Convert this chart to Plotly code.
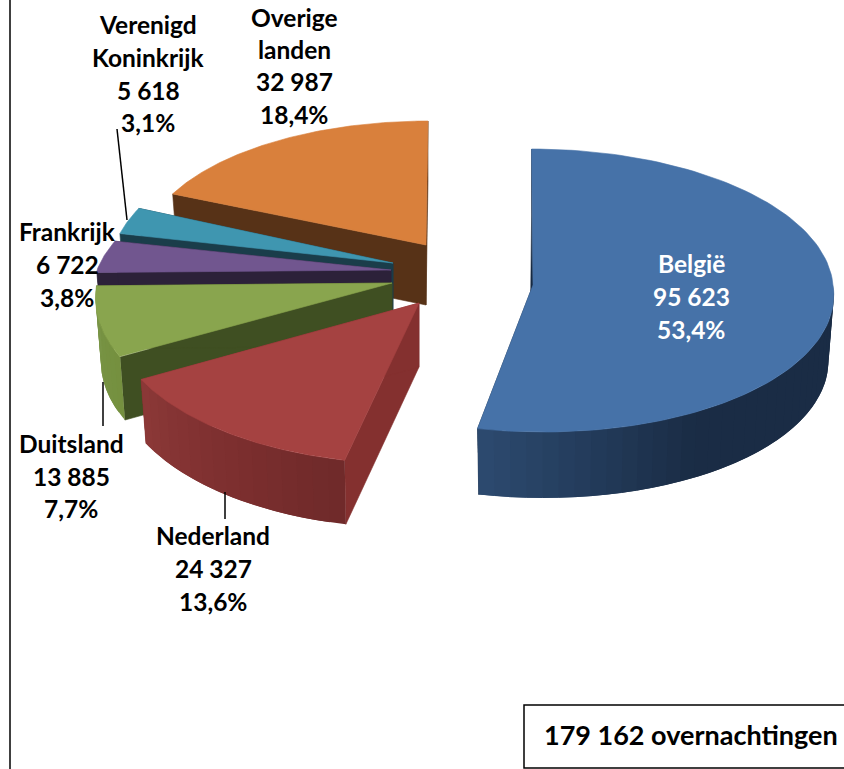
import numpy as np
import plotly.graph_objects as go

# ---------- data ----------
names = ["België", "Nederland", "Duitsland", "Frankrijk", "Verenigd Koninkrijk", "Overige landen"]
values = [95623, 24327, 13885, 6722, 5618, 32987]
value_labels = ["95 623", "24 327", "13 885", "6 722", "5 618", "32 987"]
pct_labels = ["53,4%", "13,6%", "7,7%", "3,8%", "3,1%", "18,4%"]
total_label = "179 162 overnachtingen"

# ---------- style / projection of each exploded slice ----------
apex_x = [533, 419, 392, 391, 393, 426]
apex_y = [285, 303, 283, 270, 263, 245]
radius_x = [300, 308, 295, 294, 282, 282]
radius_y = [141.5, 155, 150, 135, 138, 129]
shear_front = [0.07, -0.045, -0.12, 0.0, 0.0, 0.0]
shear_back = [0.01, 0.0, 0.0, -0.3, 0.0, -0.016]
depth = [66, 64, 63, 60, 60, 60]
top_colors = ["#4672a8", "#a54241", "#89a54e", "#71568f", "#3f96b0", "#d9803c"]
face_colors = ["#172a42", "#84302f", "#3f4f22", "#2c2139", "#1a3d4a", "#573217"]
wall_stops = [
    [(90, "#1a2c45"), (150, "#1a2c45"), (192, "#2d4b70")],
    [(192, "#6f2a2a"), (215, "#7d2f2f"), (241, "#8c3938")],
    [(241, "#75903f"), (269, "#7a9648")],
    [(269, "#2c2139"), (283, "#2c2139")],
    [(283, "#1a3d4a"), (294, "#1a3d4a")],
    [(294, "#573217"), (360, "#573217")],
]
PERSP = 0.039

shares = np.array(values, dtype=float) / sum(values)
edges = np.concatenate([[0], np.cumsum(shares) * 360])


def rim(i, theta, bottom=False):
    t = np.radians(theta)
    s = 1 - PERSP * np.cos(t)
    shrink = 0.982 if bottom else 1.0
    dy = -radius_y[i] * np.cos(t) * s
    sh = np.where(dy > 0, shear_front[i], shear_back[i]) * dy
    x = apex_x[i] + radius_x[i] * np.sin(t) * s * shrink + sh
    y = apex_y[i] + dy + (depth[i] if bottom else 0)
    return x, y


def hex2rgb(c):
    return np.array([int(c[k:k + 2], 16) for k in (1, 3, 5)], dtype=float)


def wall_color(i, theta):
    th = [p[0] for p in wall_stops[i]]
    cols = np.array([hex2rgb(p[1]) for p in wall_stops[i]])
    rgb = [np.interp(theta, th, cols[:, k]) for k in range(3)]
    return "rgb(%d,%d,%d)" % tuple(rgb)


fig = go.Figure()


def poly(xs, ys, color, name, width=0.6):
    fig.add_trace(go.Scatter(
        x=list(xs), y=list(ys), mode="lines", fill="toself", fillcolor=color,
        line=dict(color=color, width=width), hoverinfo="skip", showlegend=False, name=name))


for i in [5, 4, 3, 2, 1, 0]:
    a0, a1 = edges[i], edges[i + 1]
    ax, ay = apex_x[i], apex_y[i]
    # shift of the hidden apex on the lower face (gives the thin dark sliver on the first slice)
    bx = ax - (3 if i == 0 else 0)
    by = ay + depth[i]
    # cut faces
    for a in (a0, a1):
        tx, ty = rim(i, a)
        dx, dy = rim(i, a, True)
        poly([ax, tx, dx, bx, ax], [ay, ty, dy, by, ay], face_colors[i], names[i])
    # outer wall, as shaded strips that overlap so no seams appear
    lo, hi = max(a0, 90), min(a1, 270)
    if hi > lo:
        n = max(2, int((hi - lo) / 3))
        th = np.linspace(lo, hi, n + 1)
        for j in range(n):
            seg = np.linspace(th[j], th[min(j + 2, n)], 6)
            tx, ty = rim(i, seg)
            dx, dy = rim(i, seg, True)
            poly(np.r_[tx, dx[::-1], tx[0]], np.r_[ty, dy[::-1], ty[0]],
                 wall_color(i, (th[j] + th[j + 1]) / 2), names[i], 0)
    # top surface
    arc = np.linspace(a0, a1, 120)
    rx, ry = rim(i, arc)
    poly(np.r_[ax, rx, ax], np.r_[ay, ry, ay], top_colors[i], names[i])

# ---------- labels ----------
FONT = "Lato, Carlito, Calibri, sans-serif"
SIZE = 24.5
TOTAL_SIZE = 27


def label(lines, x, ys, color="#000000", size=SIZE):
    for txt, y in zip(lines, ys):
        fig.add_annotation(x=x, y=y, text="<b>%s</b>" % txt, showarrow=False, xanchor="center",
                           yanchor="middle", font=dict(family=FONT, size=size, color=color))


label([names[0], value_labels[0], pct_labels[0]], 691, [263, 296, 329], "#ffffff")
label([names[1], value_labels[1], pct_labels[1]], 213, [535, 568, 601])
label([names[2], value_labels[2], pct_labels[2]], 71, [443, 476, 508])
label([names[3], value_labels[3], pct_labels[3]], 67, [231, 264, 297])
label(["Verenigd", "Koninkrijk", value_labels[4], pct_labels[4]], 148, [24, 57, 90, 122])
label(["Overige", "landen", value_labels[5], pct_labels[5]], 294, [17, 49, 81, 114])
label([total_label], 691, [734], size=TOTAL_SIZE)

# ---------- frame, box, leader lines ----------
LINE = dict(color="#000000", width=1.5)
shapes = [
    dict(type="line", x0=10, x1=10, y0=0, y1=769, line=LINE),
    dict(type="rect", x0=524, x1=860, y0=705, y1=768, line=LINE, fillcolor="rgba(0,0,0,0)"),
    dict(type="line", x0=117, y0=129, x1=127, y1=220, line=LINE),
    dict(type="line", x0=103, y0=382, x1=103, y1=426, line=LINE),
    dict(type="line", x0=225, y0=492, x1=225, y1=519, line=LINE),
]

fig.update_layout(
    width=844, height=769, autosize=False,
    margin=dict(l=0, r=0, t=0, b=0),
    paper_bgcolor="#ffffff", plot_bgcolor="#ffffff",
    showlegend=False, shapes=shapes,
    xaxis=dict(range=[0, 844], visible=False, fixedrange=True),
    yaxis=dict(range=[769, 0], visible=False, fixedrange=True),
)
fig.write_html("out.html", config={"displayModeBar": False},
               post_script="document.body.style.margin='0';document.body.style.overflow='hidden';"
                           "var s=document.createElement('style');"
                           "s.textContent='text{font-variant-ligatures:none}';"
                           "document.head.appendChild(s);")
